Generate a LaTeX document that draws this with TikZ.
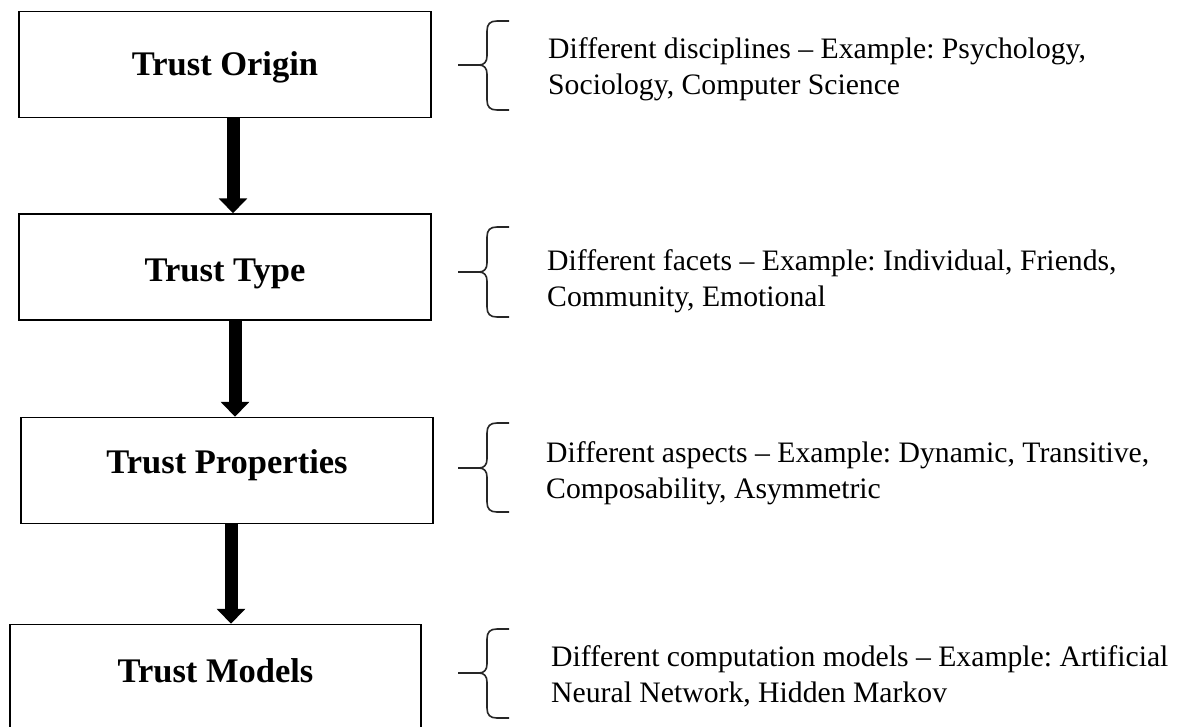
\documentclass[tikz,border=0pt]{standalone}
\usepackage{fontspec}
\setmainfont{Liberation Serif}
\usetikzlibrary{arrows.meta,calc}
\frenchspacing

\begin{document}
\begin{tikzpicture}[x=1pt,y=-1pt,
  stagebox/.style={draw=black,line width=1.5pt,fill=white,inner sep=0pt,
    minimum width=412pt,minimum height=106pt,text depth=0pt,
    font=\fontsize{34.5}{41}\selectfont\bfseries},
  desc/.style={anchor=base west,inner sep=0pt,
    font=\fontsize{29.7}{36}\selectfont},
  bigarrow/.style={line width=13pt,draw=black,
    -{Triangle[width=28pt,length=15pt]}},
  bracepath/.style={draw=black!85,line width=1.6pt,line join=round}]

\useasboundingbox (0,0) rectangle (1180,726);
\clip (0,0) rectangle (1180,726);

% stage boxes
\node[stagebox,text height=22.8pt] (origin) at (225,64.5)  {Trust Origin};
\node[stagebox,text height=28.8pt] (type)   at (225,267)   {Trust Type};
\node[stagebox,text height=5.8pt]  (props)  at (227,470.5) {Trust Properties};
\node[stagebox,text height=10.8pt,minimum width=411pt] (models) at (215.5,677.5) {Trust Models};

% flow arrows between the stages
\coordinate (a1) at ($(origin.south)+(8,0)$);
\coordinate (a2) at ($(type.south)+(10,0)$);
\coordinate (a3) at ($(props.south)+(4,0)$);
\draw[bigarrow] (a1) -- (a1 |- type.north);
\draw[bigarrow] (a2) -- (a2 |- props.north);
\draw[bigarrow] (a3) -- (a3 |- models.north);

% descriptions
\node[desc] (d1) at (548,58)  {\begin{tabular}[t]{@{}l@{}}Different disciplines – Example: Psychology,\\ Sociology, Computer Science\end{tabular}};
\node[desc] (d2) at (547,270) {\begin{tabular}[t]{@{}l@{}}Different facets – Example: Individual, Friends,\\ Community, Emotional\end{tabular}};
\node[desc] (d3) at (546,462) {\begin{tabular}[t]{@{}l@{}}Different aspects – Example: Dynamic, Transitive,\\ Composability, Asymmetric\end{tabular}};
\node[desc] (d4) at (551,666) {\begin{tabular}[t]{@{}l@{}}Different computation models – Example: Artificial\\ Neural Network, Hidden Markov\end{tabular}};

% curly braces: top, middle, bottom
\foreach \t/\m/\b in {21/65/110, 227/272/317, 423/468/512, 629/673/718}{
  \draw[bracepath]
    (509,\t) -- (497,\t) .. controls (490,\t) and (487,\t+3) .. (487,\t+10)
    -- (487,\m-9) .. controls (487,\m-3) and (484,\m) .. (479,\m)
    .. controls (484,\m) and (487,\m+3) .. (487,\m+9)
    -- (487,\b-10) .. controls (487,\b-3) and (490,\b) .. (497,\b) -- (509,\b);
  \draw[bracepath] (479,\m) -- (458,\m);
}
\end{tikzpicture}
\end{document}
